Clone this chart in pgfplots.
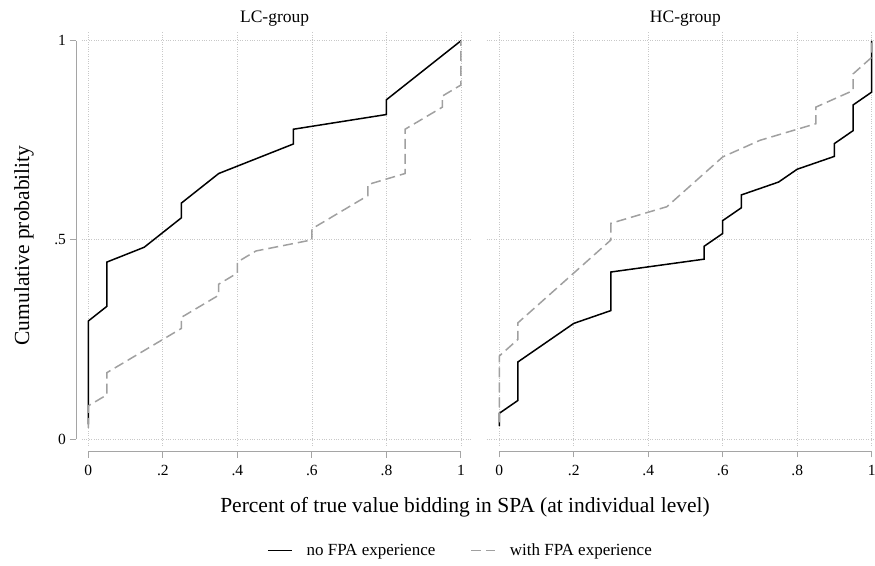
\documentclass[border=0pt]{standalone}
\usepackage{fontspec}
\setmainfont{Liberation Serif}
\usepackage{pgfplots}
\pgfplotsset{compat=1.18}
\definecolor{ser2}{RGB}{160,160,160}
\definecolor{axgray}{RGB}{165,165,165}
\definecolor{gridgray}{RGB}{200,200,200}
\pgfplotsset{
  stata/.style={
    scale only axis,
    height=413.8pt,
    ymin=-0.016, ymax=1.023,
    xtick={0,0.2,0.4,0.6,0.8,1},
    xticklabels={0,.2,.4,.6,.8,1},
    ytick={0,0.5,1},
    yticklabels={0,.5,1},
    grid=major,
    major grid style={gridgray, dotted, line width=0.8pt},
    axis lines*=left,
    axis x line shift=5.6pt,
    axis y line shift=5.6pt,
    axis line style={axgray, line width=1pt},
    tick style={axgray, line width=1pt},
    tick align=outside,
    major tick length=6.5pt,
    tick label style={font=\fontsize{15.5}{18}\selectfont},
    xticklabel style={yshift=-4pt},
    /pgf/number format/assume math mode=true,
    clip=false,
  },
  blk/.style={black, line width=1.5pt, line join=miter},
  gry/.style={ser2, line width=1.5pt, dash pattern=on 10pt off 5pt},
}
\begin{document}
\begin{tikzpicture}[x=1pt,y=1pt]
\useasboundingbox (0,0) rectangle (875,565);
% ---------- LC group ----------
\begin{axis}[stata,
  at={(81.6pt,119.6pt)}, anchor=south west,
  width=389.8pt,
  xmin=-0.018, xmax=1.028,
  x axis line style={shorten <=6.7pt, shorten >=10.4pt},
  y axis line style={shorten <=6.4pt, shorten >=9.2pt},
  legend columns=2,
  legend style={at={(0.972,-0.2545)}, anchor=center, draw=none, fill=none,
    font=\fontsize{17}{20}\selectfont,
    /tikz/every odd column/.append style={column sep=12pt},
    /tikz/every even column/.append style={column sep=33pt}},
  legend image code/.code={\draw[#1] (0pt,0pt) -- (24pt,0pt);},
]
\addplot[blk] coordinates {
(0,0.0370) (0,0.2963) (0.05,0.3333) (0.05,0.4444) (0.15,0.4815)
(0.25,0.5556) (0.25,0.5926) (0.35,0.6667) (0.55,0.7407) (0.55,0.7778)
(0.8,0.8148) (0.8,0.8519) (1,1)
};
\addlegendentry{no FPA experience}
\addplot[gry] coordinates {
(0,0.0278) (0,0.0833) (0.05,0.1111) (0.05,0.1667) (0.25,0.2778) (0.25,0.3056)
(0.35,0.3611) (0.35,0.3889) (0.4,0.4167) (0.4,0.4444) (0.45,0.4722)
(0.6,0.5) (0.6,0.5278) (0.75,0.6111) (0.75,0.6389) (0.85,0.6667) (0.85,0.7778)
(0.95,0.8333) (0.95,0.8611) (1,0.8889) (1,1)
};
\addlegendentry{with FPA experience}
\node[anchor=base, font=\fontsize{17.5}{20}\selectfont] at (axis cs:0.5,1) [yshift=18pt] {LC-group};
\end{axis}
% ---------- HC group ----------
\begin{axis}[stata,
  at={(486.6pt,119.6pt)}, anchor=south west,
  width=388.6pt,
  xmin=-0.034, xmax=1.0095,
  x axis line style={shorten <=12.7pt, shorten >=3.5pt},
  y axis line style={draw=none},
  ytick style={draw=none},
  yticklabels={},
]
\addplot[blk] coordinates {
(0,0.0323) (0,0.0645) (0.05,0.0968) (0.05,0.1935) (0.2,0.2903) (0.3,0.3226)
(0.3,0.4194) (0.55,0.4516) (0.55,0.4839) (0.6,0.5161) (0.6,0.5484)
(0.65,0.5806) (0.65,0.6129) (0.75,0.6452) (0.8,0.6774) (0.9,0.7097)
(0.9,0.7419) (0.95,0.7742) (0.95,0.8387) (1,0.8710) (1,1)
};
\addplot[gry] coordinates {
(0,0.0417) (0,0.2083) (0.05,0.25) (0.05,0.2917) (0.3,0.5) (0.3,0.5417)
(0.45,0.5833) (0.6,0.7083) (0.7,0.75) (0.85,0.7917) (0.85,0.8333)
(0.95,0.875) (0.95,0.9167) (1,0.9583) (1,1)
};
\node[anchor=base, font=\fontsize{17.5}{20}\selectfont] at (axis cs:0.5,1) [yshift=18pt] {HC-group};
\end{axis}
% ---------- shared titles ----------
\node[anchor=base, font=\fontsize{21.5}{24}\selectfont] at (465,53) {Percent of true value bidding in SPA (at individual level)};
\node[anchor=base, rotate=90, font=\fontsize{21.5}{24}\selectfont] at (29,319.5) {Cumulative probability};
\end{tikzpicture}
\end{document}
